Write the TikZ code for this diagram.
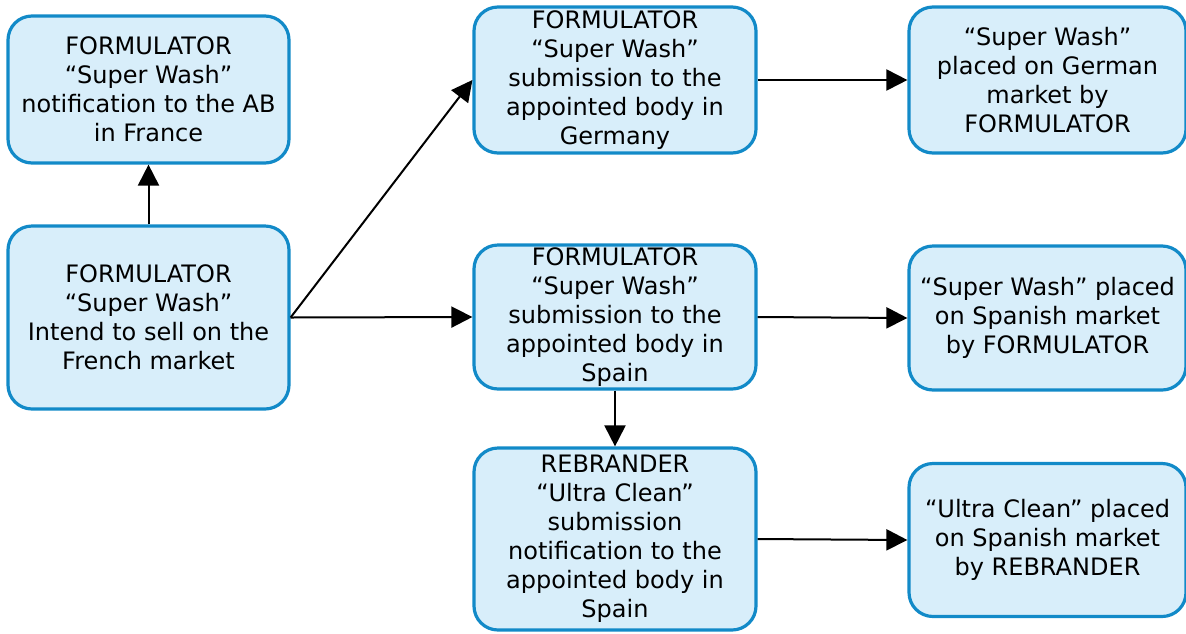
\documentclass[tikz,border=0pt]{standalone}
\usepackage{fontspec}
\setmainfont{DejaVu Sans}
\usetikzlibrary{arrows.meta}
\definecolor{boxfill}{RGB}{216,238,250}
\definecolor{boxline}{RGB}{18,138,200}
\begin{document}
\begin{tikzpicture}[x=1pt,y=-1pt,
  flowbox/.style={draw=boxline,fill=boxfill,line width=3.2pt,rounded corners=24pt,
    align=center,inner sep=0pt,font=\fontsize{24}{29}\selectfont},
  flowarrow/.style={draw=black,line width=2pt,-{Triangle[length=21pt,width=21pt]}}]
\useasboundingbox (0,0) rectangle (1186,633);

% left column
\node[flowbox,minimum width=281pt,minimum height=147pt] (ab) at (148.5,89.5)
  {FORMULATOR\\“Super Wash”\\notification to the AB\\in France};
\node[flowbox,minimum width=281pt,minimum height=183pt] (intend) at (148.5,317.5)
  {FORMULATOR\\“Super Wash”\\Intend to sell on the\\French market};

% middle column
\node[flowbox,minimum width=282pt,minimum height=146pt] (subde) at (615,80)
  {FORMULATOR\\“Super Wash”\\submission to the\\appointed body in\\Germany};
\node[flowbox,minimum width=282pt,minimum height=144pt] (subes) at (615,317)
  {FORMULATOR\\“Super Wash”\\submission to the\\appointed body in\\Spain};
\node[flowbox,minimum width=282pt,minimum height=182pt] (rebr) at (615,539)
  {REBRANDER\\“Ultra Clean”\\submission\\notification to the\\appointed body in\\Spain};

% right column
\node[flowbox,minimum width=277pt,minimum height=146pt] (mkde) at (1047.5,80)
  {“Super Wash”\\placed on German\\market by\\FORMULATOR};
\node[flowbox,minimum width=277pt,minimum height=144pt] (mkes) at (1047.5,318)
  {“Super Wash” placed\\on Spanish market\\by FORMULATOR};
\node[flowbox,minimum width=277pt,minimum height=153pt] (mkuc) at (1047.5,540)
  {“Ultra Clean” placed\\on Spanish market\\by REBRANDER};

% connectors
\draw[flowarrow] (intend.north) -- (ab.south);
\draw[flowarrow] (intend.east) -- (subde.west);
\draw[flowarrow] (intend.east) -- (subes.west);
\draw[flowarrow] (subde.east) -- (mkde.west);
\draw[flowarrow] (subes.east) -- (mkes.west);
\draw[flowarrow] (subes.south) -- (rebr.north);
\draw[flowarrow] (rebr.east) -- (mkuc.west);
\end{tikzpicture}
\end{document}
